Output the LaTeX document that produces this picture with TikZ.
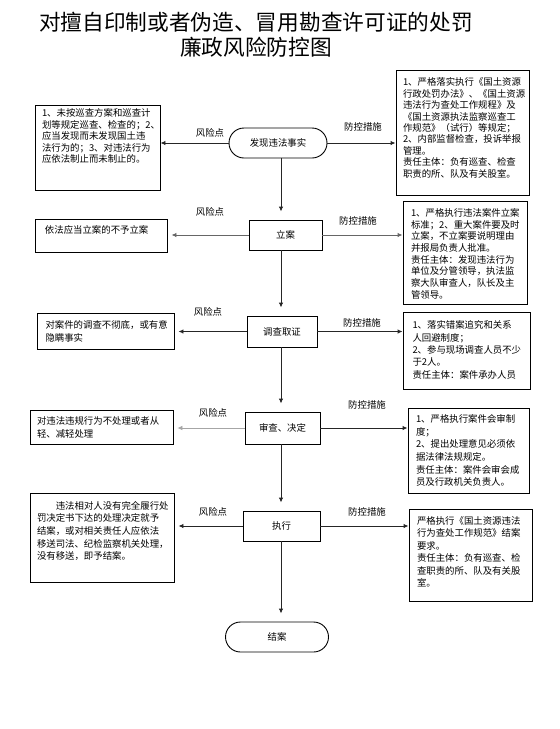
\documentclass[tikz,border=0pt]{standalone}
\usepackage{fontspec}
\setmainfont{Noto Sans CJK SC}
\usetikzlibrary{arrows.meta}
\newcommand{\bx}[5]{\parbox[c][#2pt][t]{#1pt}{\baselineskip=#4pt\vspace*{#3pt}#5}}
\begin{document}
\begin{tikzpicture}[x=1pt,y=-1pt,font=\fontsize{9.4}{12}\selectfont,
  box/.style={draw=black, line width=0.9pt, inner sep=0pt},
  mid/.style={draw=black, line width=0.9pt, inner sep=0pt},
  term/.style={draw=black, line width=0.9pt, rounded corners=15pt, inner sep=0pt},
  lab/.style={inner sep=0pt, font=\fontsize{9.4}{10}\selectfont},
  conn/.style={draw=black!85, line width=0.9pt, -{Latex[length=5pt,width=4.5pt]}},
  connv/.style={conn, shorten >=8pt}]
\useasboundingbox (0,0) rectangle (560,729);
\node[inner sep=0pt, align=center, font=\fontsize{21.7}{25}\selectfont] (title) at (256,34.5)
  {对擅自印制或者伪造、冒用勘查许可证的处罚\\廉政风险防控图};
\coordinate (spine) at (281,0);
% row 1
\node[term, minimum width=98pt, minimum height=30pt] (t1) at (278,143) {发现违法事实};
\node[box, minimum width=125pt, minimum height=85pt] (L1) at (97.5,147.5)
  {\bx{111}{85}{4}{11.5}{1、未按巡查方案和巡查计\\划等规定巡查、检查的；2、\\应当发现而未发现国土违\\法行为的；3、对违法行为\\应依法制止而未制止的。}};
\node[box, minimum width=133pt, minimum height=125pt] (R1) at (462.5,132.5)
  {\bx{119}{125}{8}{11.4}{1、严格落实执行《国土资源\\行政处罚办法》、《国土资源\\违法行为查处工作规程》及\\《国土资源执法监察巡查工\\作规范》（试行）等规定；\\2、内部监督检查，投诉举报\\管理。\\责任主体：负有巡查、检查\\职责的所、队及有关股室。}};
% row 2
\node[mid, minimum width=73pt, minimum height=30pt] (b2) at (285.5,235) {立案};
\node[box, minimum width=132pt, minimum height=33pt] (L2) at (101,235.5)
  {\bx{112}{33}{7}{12}{依法应当立案的不予立案}};
\node[box, minimum width=124pt, minimum height=103pt] (R2) at (465,252.5)
  {\bx{108}{103}{7.5}{11.7}{1、严格执行违法案件立案\\标准；2、重大案件要及时\\立案，不立案要说明理由\\并报局负责人批准。\\责任主体：发现违法行为\\单位及分管领导，执法监\\察大队审查人，队长及主\\管领导。}};
% row 3
\node[mid, minimum width=70pt, minimum height=31pt] (b3) at (282,331.5) {调查取证};
\node[box, minimum width=137pt, minimum height=36pt] (L3) at (105.5,331)
  {\bx{120}{36}{8}{13}{对案件的调查不彻底，或有意\\隐瞒事实}};
\node[box, minimum width=127pt, minimum height=77pt] (R3) at (466.5,350.5)
  {\bx{108}{77}{9}{12.3}{1、落实错案追究和关系\\人回避制度；\\2、参与现场调查人员不少\\于2人。\\责任主体：案件承办人员}};
% row 4
\node[mid, minimum width=75pt, minimum height=32pt] (b4) at (282.5,428) {审查、决定};
\node[box, minimum width=143pt, minimum height=34pt] (L4) at (101.5,427)
  {\bx{129}{34}{7}{13}{对违法违规行为不处理或者从\\轻、减轻处理}};
\node[box, minimum width=121pt, minimum height=85pt] (R4) at (468.5,450.5)
  {\bx{105}{85}{6.5}{12.7}{1、严格执行案件会审制\\度；\\2、提出处理意见必须依\\据法律法规规定。\\责任主体：案件会审会成\\员及行政机关负责人。}};
% row 5
\node[mid, minimum width=77pt, minimum height=30pt] (b5) at (281.5,526) {执行};
\node[box, minimum width=144pt, minimum height=89pt] (L5) at (102,537.5)
  {\bx{130}{89}{8}{12.7}{\hspace*{2em}违法相对人没有完全履行处\\罚决定书下达的处理决定就予\\结案，或对相关责任人应依法\\移送司法、纪检监察机关处理，\\没有移送，即予结案。}};
\node[box, minimum width=123pt, minimum height=92pt] (R5) at (470.5,555)
  {\bx{107}{92}{7.5}{12.5}{严格执行《国土资源违法\\行为查处工作规范》结案\\要求。\\责任主体：负有巡查、检\\查职责的所、队及有关股\\室。}};
% end
\node[term, minimum width=103pt, minimum height=30pt] (t2) at (277,637) {结案};
% labels
\node[lab] (f1) at (210,133) {风险点};
\node[lab] (p1) at (363,127) {防控措施};
\node[lab] (f2) at (210,212) {风险点};
\node[lab] (p2) at (358,221) {防控措施};
\node[lab] (f3) at (208,312) {风险点};
\node[lab] (p3) at (362,323) {防控措施};
\node[lab] (f4) at (213,413) {风险点};
\node[lab] (p4) at (367,405) {防控措施};
\node[lab] (f5) at (213,512) {风险点};
\node[lab] (p5) at (367,512) {防控措施};
% vertical connectors
\draw[connv] (t1.south -| spine) -- (b2.north -| spine);
\draw[connv] (b2.south -| spine) -- (b3.north -| spine);
\draw[connv] (b3.south -| spine) -- (b4.north -| spine);
\draw[connv] (b4.south -| spine) -- (b5.north -| spine);
\draw[connv] (b5.south -| spine) -- (t2.north -| spine);
% left connectors
\draw[conn] (t1.west) -- (t1.west -| L1.east);
\draw[conn, draw=black!60, shorten >=4pt] (b2.west) -- (b2.west -| L2.east);
\draw[conn, shorten >=4pt] (b3.west) -- (b3.west -| L3.east);
\draw[conn, draw=black!35, line width=0.7pt, shorten >=4pt] (b4.west) -- (b4.west -| L4.east);
\draw[conn, shorten >=4pt] (b5.west) -- (b5.west -| L5.east);
% right connectors
\draw[conn] (t1.east) -- (t1.east -| R1.west);
\draw[conn, draw=black!60] (b2.east) -- (b2.east -| R2.west);
\draw[conn] (b3.east) -- (b3.east -| R3.west);
\draw[conn] (b4.east) -- (b4.east -| R4.west);
\draw[conn] (b5.east) -- (b5.east -| R5.west);
\end{tikzpicture}
\end{document}
